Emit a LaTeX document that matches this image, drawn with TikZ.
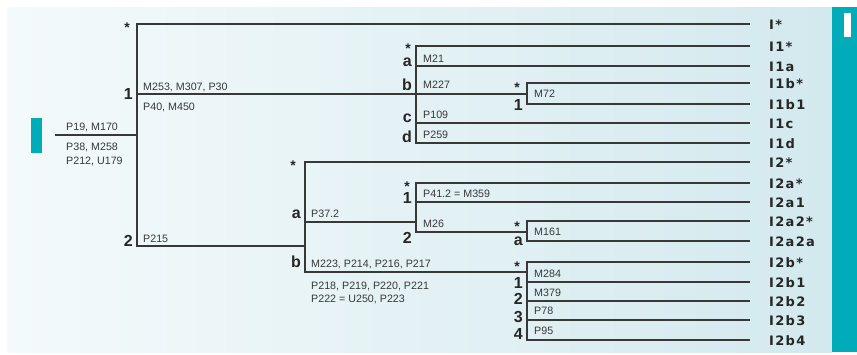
\documentclass[tikz,border=0pt]{standalone}
\usepackage{fontspec}
\setmainfont{Liberation Sans}
\newfontfamily\leaffont[LetterSpace=10]{DejaVu Sans}
\definecolor{sarcelle}{HTML}{00ABBA}
\definecolor{fondg}{HTML}{F4FAFB}
\definecolor{fondd}{HTML}{D3E9EE}
\definecolor{trait}{HTML}{383838}
\tikzset{
  twig/.style={draw=trait,line width=1.8pt},
  tag/.style={font=\fontsize{10.7}{13.5}\selectfont,text=trait,inner sep=0pt,align=left,anchor=base west},
  rank/.style={font=\bfseries\fontsize{16}{16}\selectfont,text=black!85,inner sep=0pt,anchor=base east},
  astk/.style={font=\bfseries\fontsize{14}{14}\selectfont,text=black!85,inner sep=0pt,anchor=base},
  tip/.style={font=\leaffont\bfseries\fontsize{13}{13}\selectfont,text=black!85,inner sep=0pt,anchor=base west}
}

\begin{document}
\begin{tikzpicture}[x=1pt,y=-1pt]
  \useasboundingbox (0,0) rectangle (857,354);
  \fill[white] (0,0) rectangle (857,354);
  \shade[left color=fondg,right color=fondd] (7,7) rectangle (832,352);
  \fill[sarcelle] (832,7) rectangle (857,352);
  \fill[white] (844,13) rectangle (851,37);
  \fill[sarcelle] (31,118) rectangle (42,153);

  \coordinate (base) at (55,135);
  \coordinate (I) at (137,135);
  \coordinate (n1) at (416,94);
  \coordinate (n1b) at (527,94);
  \coordinate (n2) at (305,246);
  \coordinate (n2a) at (416,222);
  \coordinate (n2a2) at (527,232);
  \coordinate (n2b) at (527,272);

  \coordinate (e-I) at (750,24);
  \coordinate (e-I1) at (750,46);
  \coordinate (e-I1a) at (750,66);
  \coordinate (e-I1b) at (750,83);
  \coordinate (e-I1b1) at (750,104);
  \coordinate (e-I1c) at (750,123);
  \coordinate (e-I1d) at (750,143);
  \coordinate (e-I2) at (750,162);
  \coordinate (e-I2a) at (750,183);
  \coordinate (e-I2a1) at (750,202);
  \coordinate (e-I2a2) at (750,221);
  \coordinate (e-I2a2a) at (750,241);
  \coordinate (e-I2b) at (750,262);
  \coordinate (e-I2b1) at (750,282);
  \coordinate (e-I2b2) at (750,301);
  \coordinate (e-I2b3) at (750,320);
  \coordinate (e-I2b4) at (750,340);

  \draw[twig] (base) -- (I);
  \draw[twig] (I) |- (e-I);
  \draw[twig] (I) |- (n1b);
  \draw[twig] (I) |- (n2);

  \draw[twig] (n1) |- (e-I1);
  \draw[twig] (n1) |- (e-I1a);
  \draw[twig] (n1) |- (e-I1c);
  \draw[twig] (n1) |- (e-I1d);
  \draw[twig] (n1b) |- (e-I1b);
  \draw[twig] (n1b) |- (e-I1b1);

  \draw[twig] (n2) |- (e-I2);
  \draw[twig] (n2) |- (n2a);
  \draw[twig] (n2) |- (n2b);
  \draw[twig] (n2a) |- (e-I2a);
  \draw[twig] (n2a) |- (e-I2a1);
  \draw[twig] (n2a) |- (n2a2);
  \draw[twig] (n2a2) |- (e-I2a2);
  \draw[twig] (n2a2) |- (e-I2a2a);
  \draw[twig] (n2b) |- (e-I2b);
  \draw[twig] (n2b) |- (e-I2b1);
  \draw[twig] (n2b) |- (e-I2b2);
  \draw[twig] (n2b) |- (e-I2b3);
  \draw[twig] (n2b) |- (e-I2b4);

  \node[tip] at (769,29.5) (l-I) {I*};
  \node[tip] at (769,51.5) (l-I1) {I1*};
  \node[tip] at (769,71.5) (l-I1a) {I1a};
  \node[tip] at (769,88.5) (l-I1b) {I1b*};
  \node[tip] at (769,109.5) (l-I1b1) {I1b1};
  \node[tip] at (769,128.5) (l-I1c) {I1c};
  \node[tip] at (769,148.5) (l-I1d) {I1d};
  \node[tip] at (769,167.5) (l-I2) {I2*};
  \node[tip] at (769,188.5) (l-I2a) {I2a*};
  \node[tip] at (769,207.5) (l-I2a1) {I2a1};
  \node[tip] at (769,226.5) (l-I2a2) {I2a2*};
  \node[tip] at (769,246.5) (l-I2a2a) {I2a2a};
  \node[tip] at (769,267.5) (l-I2b) {I2b*};
  \node[tip] at (769,287.5) (l-I2b1) {I2b1};
  \node[tip] at (769,306.5) (l-I2b2) {I2b2};
  \node[tip] at (769,325.5) (l-I2b3) {I2b3};
  \node[tip] at (769,345.5) (l-I2b4) {I2b4};

  \node[astk] at (127,32) (s-I) {*};
  \node[astk] at (408,53) (s-I1) {*};
  \node[astk] at (517,92) (s-I1b) {*};
  \node[astk] at (293,170) (s-I2) {*};
  \node[astk] at (407,191) (s-I2a) {*};
  \node[astk] at (517,231) (s-I2a2) {*};
  \node[astk] at (517,271) (s-I2b) {*};

  \node[rank] at (133,99) (r-1) {1};
  \node[rank] at (133,246) (r-2) {2};
  \node[rank] at (412,66) (r-1a) {a};
  \node[rank] at (412,90) (r-1b) {b};
  \node[rank] at (412,122) (r-1c) {c};
  \node[rank] at (412,142) (r-1d) {d};
  \node[rank] at (523,110) (r-1b1) {1};
  \node[rank] at (301,218) (r-2a) {a};
  \node[rank] at (301,267) (r-2b) {b};
  \node[rank] at (412,203) (r-2a1) {1};
  \node[rank] at (412,243) (r-2a2) {2};
  \node[rank] at (523,245) (r-2a2a) {a};
  \node[rank] at (523,288) (r-2b1) {1};
  \node[rank] at (523,304) (r-2b2) {2};
  \node[rank] at (523,322) (r-2b3) {3};
  \node[rank] at (523,339) (r-2b4) {4};

  \node[tag] at (66,130) (t-root-up) {P19, M170};
  \node[tag,font=\fontsize{10.7}{14}\selectfont] at (66,164) (t-root-dn) {P38, M258\\P212, U179};
  \node[tag] at (143,90) (t-1-up) {M253, M307, P30};
  \node[tag] at (143,110) (t-1-dn) {P40, M450};
  \node[tag] at (423,62) (t-1a) {M21};
  \node[tag] at (423,88) (t-1b) {M227};
  \node[tag] at (534,97) (t-1b1) {M72};
  \node[tag] at (423,118) (t-1c) {P109};
  \node[tag] at (423,138) (t-1d) {P259};
  \node[tag] at (143,242) (t-2) {P215};
  \node[tag] at (311,217) (t-2a) {P37.2};
  \node[tag] at (311,267) (t-2b-up) {M223, P214, P216, P217};
  \node[tag,font=\fontsize{10.7}{13}\selectfont] at (311,302) (t-2b-dn) {P218, P219, P220, P221\\P222 = U250, P223};
  \node[tag] at (423,197) (t-2a1) {P41.2 = M359};
  \node[tag] at (423,227) (t-2a2) {M26};
  \node[tag] at (534,235) (t-2a2a) {M161};
  \node[tag] at (534,277) (t-2b1) {M284};
  \node[tag] at (534,296) (t-2b2) {M379};
  \node[tag] at (534,314) (t-2b3) {P78};
  \node[tag] at (534,334) (t-2b4) {P95};
\end{tikzpicture}
\end{document}
